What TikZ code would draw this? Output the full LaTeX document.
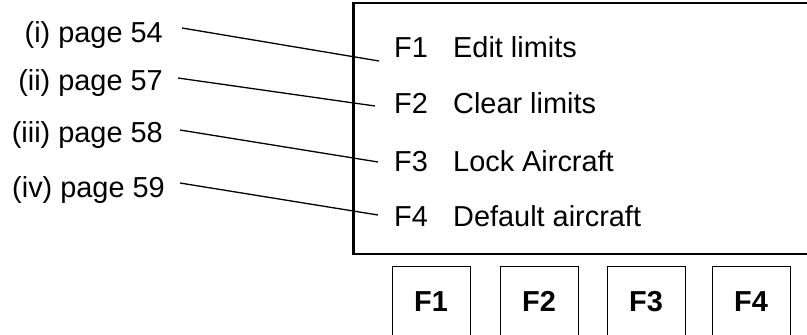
\documentclass[tikz,border=0pt]{standalone}
\usepackage{fontspec}
\setmainfont{Liberation Sans}
\begin{document}
\begin{tikzpicture}[x=1bp,y=-1bp,
  lbl/.style={anchor=base east,inner sep=0pt,font=\fontsize{29}{33}\selectfont},
  fkey/.style={anchor=base west,inner sep=0pt,font=\fontsize{29}{33}\selectfont},
  fdesc/.style={anchor=base west,inner sep=0pt,font=\fontsize{29}{33}\selectfont},
  btn/.style={draw,line width=1.3bp,minimum width=78bp,minimum height=90bp,anchor=north west,inner sep=0pt},
  btntext/.style={inner sep=0pt,anchor=base,font=\fontsize{29}{33}\selectfont\bfseries},
  conn/.style={line width=1.3bp},
  screen/.style={draw,line width=2.6bp}]
\clip (0,0) rectangle (807,334);
\fill[white] (0,0) rectangle (807,334);
% screen
\node[screen,anchor=north west,minimum width=480bp,minimum height=251bp,inner sep=0pt] (scr) at (352,1.5) {};
% screen texts
\node[fkey] (k1) at (394,57) {F1};
\node[fkey] (k2) at (394,113) {F2};
\node[fkey] (k3) at (394,171) {F3};
\node[fkey] (k4) at (394,226) {F4};
\node[fdesc] (d1) at (453,57) {Edit limits};
\node[fdesc] (d2) at (453,113) {Clear limits};
\node[fdesc] (d3) at (453,171) {Lock Aircraft};
\node[fdesc] (d4) at (453,226) {Default aircraft};
% labels
\node[lbl] (l1) at (163,42) {(i) page 54};
\node[lbl] (l2) at (163,90) {(ii) page 57};
\node[lbl] (l3) at (163,142) {(iii) page 58};
\node[lbl] (l4) at (165,197) {(iv) page 59};
% connector endpoints
\coordinate (a1) at (182,28);
\coordinate (b1) at (379,61);
\coordinate (a2) at (178,78);
\coordinate (b2) at (375,106);
\coordinate (a3) at (180,130);
\coordinate (b3) at (378,162);
\coordinate (a4) at (180,183);
\coordinate (b4) at (378,215);
\draw[conn] (a1) -- (b1);
\draw[conn] (a2) -- (b2);
\draw[conn] (a3) -- (b3);
\draw[conn] (a4) -- (b4);
% buttons
\node[btn] (B1) at (392,266) {};
\node[btn] (B2) at (500,266) {};
\node[btn] (B3) at (607,266) {};
\node[btn] (B4) at (712,266) {};
\node[btntext] (t1) at (431,311) {F1};
\node[btntext] (t2) at (539,311) {F2};
\node[btntext] (t3) at (646,311) {F3};
\node[btntext] (t4) at (751,311) {F4};
\end{tikzpicture}
\end{document}
